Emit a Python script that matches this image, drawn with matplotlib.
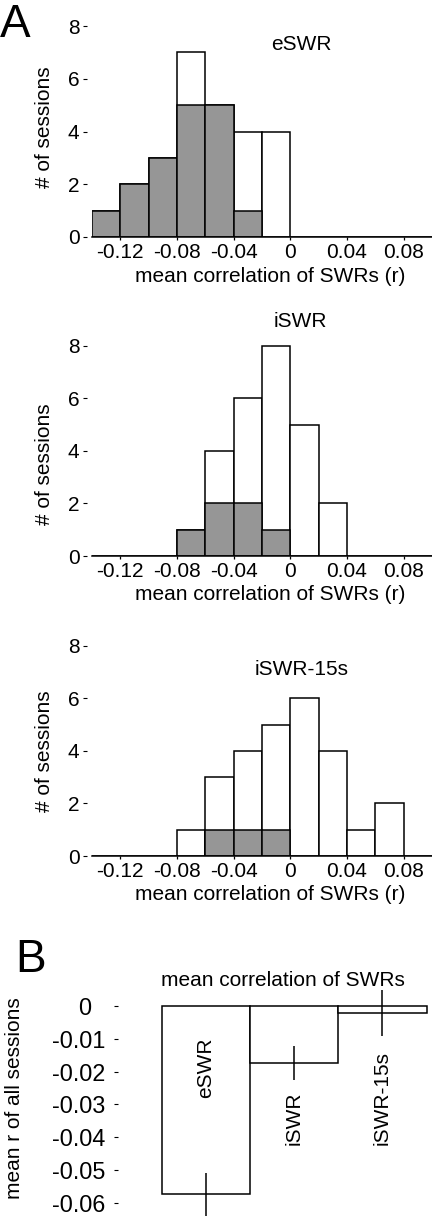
import matplotlib
matplotlib.use('Agg')
import matplotlib.pyplot as plt
import numpy as np

W, H, DPI = 432, 1218, 100
plt.rcParams['font.family'] = ['Liberation Sans', 'DejaVu Sans']
plt.rcParams['axes.unicode_minus'] = False

# ---------------- data ----------------
bin_left = [-0.14, -0.12, -0.10, -0.08, -0.06, -0.04, -0.02, 0.0, 0.02, 0.04, 0.06, 0.08]
bin_width = 0.02

eswr_all = [1, 2, 3, 7, 5, 4, 4, 0, 0, 0, 0, 0]
eswr_sig = [1, 2, 3, 5, 5, 1, 0, 0, 0, 0, 0, 0]
iswr_all = [0, 0, 0, 1, 4, 6, 8, 5, 2, 0, 0, 0]
iswr_sig = [0, 0, 0, 1, 2, 2, 1, 0, 0, 0, 0, 0]
iswr15_all = [0, 0, 0, 1, 3, 4, 5, 6, 4, 1, 2, 0]
iswr15_sig = [0, 0, 0, 0, 1, 1, 1, 0, 0, 0, 0, 0]

hist_titles = ['eSWR', 'iSWR', 'iSWR-15s']
x_ticks = [-0.12, -0.08, -0.04, 0.0, 0.04, 0.08]
x_ticklabels = ['-0.12', '-0.08', '-0.04', '0', '0.04', '0.08']
y_ticks = [0, 2, 4, 6, 8]
y_ticklabels = ['0', '2', '4', '6', '8']

groups = ['eSWR', 'iSWR', 'iSWR-15s']
group_means = [-0.0575, -0.0174, -0.0022]
group_sems = [0.0066, 0.0053, 0.0071]
b_ticks = [0, -0.01, -0.02, -0.03, -0.04, -0.05, -0.06]
b_ticklabels = ['0  ', '-0.01', '-0.02', '-0.03', '-0.04', '-0.05', '-0.06']

# ---------------- layout helpers ----------------
fig = plt.figure(figsize=(W / DPI, H / DPI), dpi=DPI)
FS = 15
GRAY = '#969696'
LW = 1.1


def add_ax(l, t, r, b):
    return fig.add_axes([l / W, 1 - b / H, (r - l) / W, (b - t) / H])


def ftext(x, y, s, **kw):
    return fig.text(x / W, 1 - y / H, s, **kw)


hist_sets = [(eswr_all, eswr_sig), (iswr_all, iswr_sig), (iswr15_all, iswr15_sig)]
# pixel geometry: (zero line y, px per count, title pos, ylabel center y)
geom = [
    (237, 26.375, (301, 45), 127.5),
    (556, 26.29, (300, 321), 464),
    (856, 26.29, (302, 669), 751.5),
]
YMAX = 8.4

for (allc, sigc), title, (y0, ppu, tpos, ylc) in zip(hist_sets, hist_titles, geom):
    top = y0 - YMAX * ppu
    ax = add_ax(92, top, 432, y0)
    ax.bar(bin_left, allc, width=bin_width, align='edge', color='white',
           edgecolor='black', linewidth=LW, zorder=2)
    sl = [b for b, c in zip(bin_left, sigc) if c > 0]
    sc = [c for c in sigc if c > 0]
    ax.bar(sl, sc, width=bin_width, align='edge', color=GRAY,
           edgecolor='black', linewidth=LW, zorder=3)
    ax.set_xlim(-0.14, 0.10)
    ax.set_ylim(0, YMAX)
    for s in ['top', 'right']:
        ax.spines[s].set_visible(False)
    ax.spines['left'].set_visible(False)
    ax.spines['left'].set_position(('outward', 3.6))
    ax.spines['bottom'].set_linewidth(LW)
    ax.spines['bottom'].set_zorder(4)
    ax.set_xticks(x_ticks)
    ax.set_xticklabels(x_ticklabels, fontsize=FS)
    ax.set_yticks(y_ticks)
    ax.set_yticklabels(y_ticklabels, fontsize=FS)
    ax.tick_params(axis='x', direction='out', length=2.2, width=0.9, pad=2)
    ax.tick_params(axis='y', direction='out', length=2.9, width=0.8, pad=2.5)
    ax.set_xlabel('mean correlation of SWRs (r)', fontsize=FS, va='center')
    ax.xaxis.set_label_coords((270 - 92) / 340, -(39) / (y0 - top))
    ax.set_ylabel('# of sessions', fontsize=FS, va='center')
    ax.yaxis.set_label_coords((45 - 92) / 340, (y0 - ylc) / (y0 - top))
    ax.patch.set_alpha(0)
    ftext(tpos[0], tpos[1], title, fontsize=FS, ha='center', va='center')

# ---------------- panel B ----------------
b_zero = 1006
b_ppu = 32.78 / 0.01
b_top, b_bot = 985, 1218
axb = add_ax(118, b_top, 432, b_bot)
xpos = np.arange(len(groups))
axb.bar(xpos, group_means, width=1.0, color='white', edgecolor='black',
        linewidth=LW, zorder=2)
axb.errorbar(xpos, group_means, yerr=group_sems, fmt='none', ecolor='black',
             elinewidth=1.1, capsize=0, zorder=3)
axb.set_xlim(-(205.8 - 118) / 88.33, (432 - 205.8) / 88.33)
axb.set_ylim(-(b_bot - b_zero) / b_ppu, (b_zero - b_top) / b_ppu)
for s in axb.spines.values():
    s.set_visible(False)
axb.set_xticks([])
axb.set_yticks(b_ticks)
axb.set_yticklabels(b_ticklabels, fontsize=16.8)
axb.tick_params(axis='y', direction='out', length=2.6, width=0.8, pad=6.5)
axb.patch.set_alpha(0)

label_bottoms = [-0.0281, -0.0424, -0.0424]
for x, g, yb in zip(xpos, groups, label_bottoms):
    axb.text(x, yb, g, rotation=90, ha='center', va='bottom', fontsize=FS)

ftext(283, 980, 'mean correlation of SWRs', fontsize=FS, ha='center', va='center')
ftext(15, 1098.5, 'mean r of all sessions', fontsize=FS, ha='center', va='center',
      rotation=90)

# panel letters
ftext(0, 37, 'A', fontsize=33, ha='left', va='baseline')
ftext(15, 972, 'B', fontsize=33, ha='left', va='baseline')

fig.savefig('out.png', dpi=DPI)
